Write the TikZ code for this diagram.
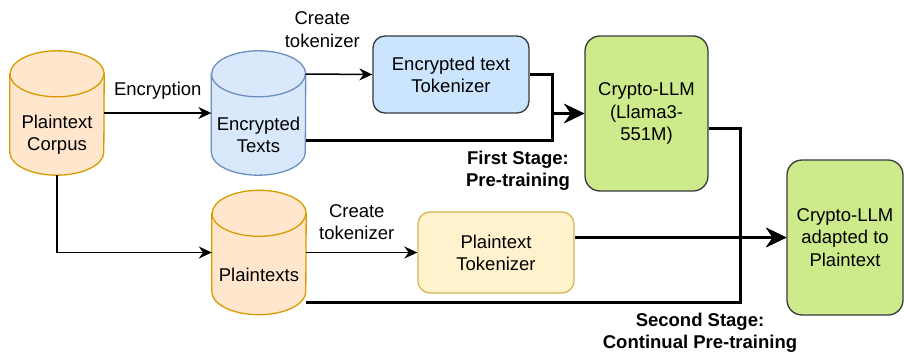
\documentclass[tikz,border=0pt]{standalone}
\usepackage{fontspec}
\setmainfont{Liberation Sans}
\usetikzlibrary{positioning,arrows.meta,calc}
\definecolor{corpusfill}{HTML}{FFE6CC}
\definecolor{corpusline}{HTML}{D79B00}
\definecolor{cipherfill}{HTML}{DAE8FC}
\definecolor{cipherline}{HTML}{6C8EBF}
\definecolor{tokfill}{HTML}{CCE5FF}
\definecolor{plaintokfill}{HTML}{FFF2CC}
\definecolor{plaintokline}{HTML}{D6B656}
\definecolor{llmfill}{HTML}{CDEB8B}
\definecolor{darkline}{HTML}{36393D}

\begin{document}
\begin{tikzpicture}[x=1pt, y=1pt,
    font=\fontsize{18.5pt}{22.2pt}\selectfont,
    store/.style={minimum width=94pt, minimum height=124pt, inner sep=0pt},
    tokbox/.style={draw=darkline, line width=1.3pt, rounded corners=12pt, minimum width=156pt, align=center},
    llmbox/.style={draw=darkline, fill=llmfill, line width=1.3pt, rounded corners=15pt, minimum height=155pt, align=center},
    flow/.style={line width=1.5pt, -{Stealth[length=13pt, width=12pt]}},
    trainflow/.style={line width=3pt, -{Stealth[length=20pt, width=19pt]}},
    stagelabel/.style={font=\fontsize{18.5pt}{22.2pt}\selectfont\bfseries, align=center}]

    \useasboundingbox (0,0) rectangle (904,-353);

    % Data stores (cylinders)
    \node[store] (corpus) at (57,-113) {};
    \node[store] (enc) at (258.5,-113) {};
    \node[store] (plain) at (259,-252.5) {};
    \foreach \nm/\fc/\dc in {corpus/corpusfill/corpusline, enc/cipherfill/cipherline, plain/corpusfill/corpusline} {
        \filldraw[fill=\fc, draw=\dc, line width=1.3pt]
            ($(\nm.north west)+(0,-23)$) -- ($(\nm.south west)+(0,23)$)
            arc[start angle=180, end angle=360, x radius=47pt, y radius=23pt]
            -- ($(\nm.north east)+(0,-23)$)
            arc[start angle=0, end angle=180, x radius=47pt, y radius=23pt] -- cycle;
        \draw[draw=\dc, line width=1.3pt] ($(\nm.north west)+(0,-23)$)
            arc[start angle=180, end angle=360, x radius=47pt, y radius=23pt];
    }
    \node[align=center] (corpustxt) at ($(corpus.center)+(0,-22)$) {Plaintext\\Corpus};
    \node[align=center] (enctxt) at ($(enc.center)+(0,-22)$) {Encrypted\\Texts};
    \node (plaintxt) at ($(plain.center)+(0,-22)$) {Plaintexts};

    % Tokenizers and models
    \node[tokbox, fill=tokfill, minimum height=77pt] (enctok) at (451,-74.5) {Encrypted text\\Tokenizer};
    \node[tokbox, fill=plaintokfill, draw=plaintokline, minimum height=81pt] (plaintok) at (496,-252.5) {Plaintext\\Tokenizer};
    \node[llmbox, minimum width=123pt] (llm) at (646.5,-113.5) {Crypto-LLM\\(Llama3-\\551M)};
    \node[llmbox, minimum width=116pt] (llmplain) at (845,-237.5) {Crypto-LLM\\adapted to\\Plaintext};

    % Preparation arrows
    \draw[flow] (corpus.east) -- node[midway, yshift=22pt] (enclbl) {Encryption} (enc.west);
    \draw[flow] ([yshift=39pt]enc.east) -- node[pos=0.25, yshift=44.5pt, align=center] (mktok1) {Create\\tokenizer} (enctok.west);
    \draw[flow] (corpus.south) |- (plain.west);
    \draw[flow] (plain.east) -- node[pos=0.455, yshift=30pt, align=center] (mktok2) {Create\\tokenizer} (plaintok.west);

    % First stage: pre-training
    \coordinate (join1) at (552,-113.5);
    \draw[trainflow] (enctok.east) -| (join1) -- (llm.west);
    \draw[trainflow] ([yshift=-27pt]enc.east) -| (join1) -- (llm.west);
    \node[stagelabel] (stage1) at (518,-171) {First Stage:\\Pre-training};

    % Second stage: continual pre-training
    \coordinate (join2) at (740,-237.5);
    \draw[trainflow] ([yshift=-15pt]llm.east) -| (join2) -- (llmplain.west);
    \draw[trainflow] (plaintok.east |- llmplain.west) -- (llmplain.west);
    \draw[trainflow] ([yshift=-50pt]plain.east) -| (join2) -- (llmplain.west);
    \node[stagelabel] (stage2) at (700,-332.5) {Second Stage:\\Continual Pre-training};
\end{tikzpicture}
\end{document}
